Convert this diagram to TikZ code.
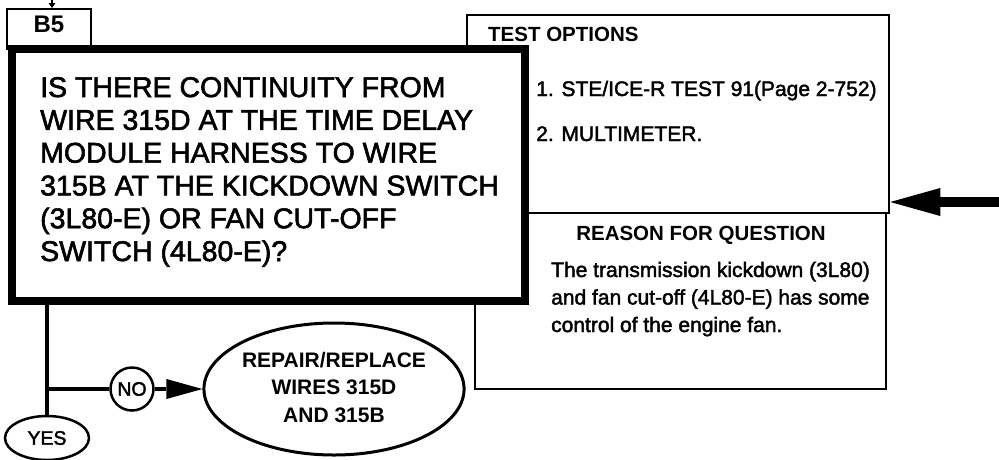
\documentclass[tikz,border=0pt]{standalone}
\usepackage{fontspec}
\setmainfont{Liberation Sans}
\newfontfamily\rfont{Liberation Sans}[FakeBold=2]
\usetikzlibrary{arrows.meta,shapes.geometric}
\tikzset{
  qbox/.style={draw, line width=8pt, fill=white, inner sep=0pt, minimum width=513pt, minimum height=252pt},
  thinbox/.style={draw, line width=2.5pt, fill=white, inner sep=0pt},
  txt/.style={anchor=base west, inner sep=0pt},
  flow/.style={line width=4.5pt},
  smallfont/.style={font=\rfont\fontsize{21}{27.5}\selectfont},
  headfont/.style={font=\bfseries\fontsize{20.5}{24}\selectfont},
  ovalfont/.style={font=\rfont\fontsize{19.5}{23}\selectfont}
}
\begin{document}
\begin{tikzpicture}[x=1pt,y=-1pt]
\useasboundingbox (0,0) rectangle (999,459);
\fill[white] (0,0) rectangle (999,459);
% side boxes
\node[thinbox, minimum width=411pt, minimum height=176pt] (rbox) at (680.5,301) {};
\node[thinbox, minimum width=422pt, minimum height=198pt] (tbox) at (678,114) {};
% B5 box
\node[thinbox, line width=2pt, minimum width=84pt, minimum height=40pt,
      font=\bfseries\fontsize{24}{28}\selectfont, text height=17pt, text depth=11pt] (b5) at (49,29) {B5};
% main question box
\node[qbox] (mainq) at (268.5,175) {};
\node[txt, font=\rfont\fontsize{28.5}{32.8}\selectfont] (qtext) at (40,97)
  {\begin{tabular}[t]{@{}l@{}}IS THERE CONTINUITY FROM\\WIRE 315D AT THE TIME DELAY\\MODULE HARNESS TO WIRE\\315B AT THE KICKDOWN SWITCH\\(3L80-E) OR FAN CUT-OFF\\SWITCH (4L80-E)?\end{tabular}};
% test options
\node[txt, headfont] (thead) at (488,41) {TEST OPTIONS};
\node[txt, smallfont] (t1) at (536,96) {1. STE/ICE-R TEST 91(Page 2-752)};
\node[txt, smallfont] (t2) at (536,141) {2. MULTIMETER.};
% reason
\node[anchor=base, inner sep=0pt, headfont] (rhead) at (701,240) {REASON FOR QUESTION};
\node[txt, smallfont] (rtext) at (551,277)
  {\begin{tabular}[t]{@{}l@{}}The transmission kickdown (3L80)\\and fan cut-off (4L80-E) has some\\control of the engine fan.\end{tabular}};
% flow nodes
\node[draw, ellipse, line width=2.5pt, minimum width=84pt, minimum height=44pt, inner sep=0pt, ovalfont] (yes) at (47,438) {YES};
\node[draw, circle, line width=2.5pt, minimum size=43pt, inner sep=0pt, ovalfont] (no) at (132,389) {NO};
\node[draw, ellipse, line width=3pt, minimum width=232pt, minimum height=132pt, inner sep=0pt,
      font=\bfseries\fontsize{21}{27.5}\selectfont] (fix) at (334,389)
  {\raisebox{-10pt}{\begin{tabular}{@{}c@{}}REPAIR/REPLACE\\WIRES 315D\\AND 315B\end{tabular}}};
% connectors
\coordinate (b5in) at (52,0);
\draw[line width=1.5pt, -{Triangle[length=5pt,width=7pt,line width=0pt]}] (b5in) -- (b5in |- b5.north);
\draw[flow] (yes.north |- mainq.south) -- (yes.north);
\coordinate (branch) at (yes.north |- no.west);
\draw[flow] (branch) -- (no.west);
\draw[line width=4pt, -{Triangle[length=36pt,width=20pt,line width=0pt]}] (no) -- (fix);
\coordinate (arrin) at (999,202);
\draw[line width=10pt, -{Triangle[length=50pt,width=28pt,line width=0pt]}] (arrin) -- (arrin -| tbox.east);
\end{tikzpicture}
\end{document}
